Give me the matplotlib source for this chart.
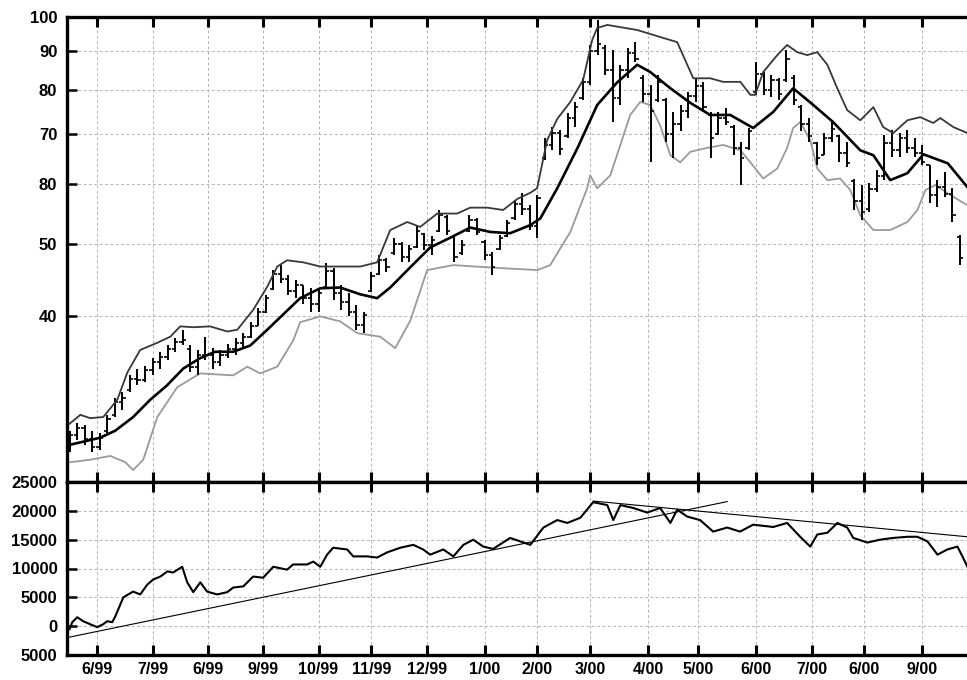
import numpy as np
import pandas as pd
import matplotlib
matplotlib.use('Agg')
import matplotlib.pyplot as plt
from matplotlib.ticker import NullLocator

# trading days covered by the chart (index 0 = first bar)
days = pd.bdate_range('1999-05-17', periods=357)

# price bars every third trading day: open / high / low / close
bar_day = list(range(0, 357, 3))
bar_high = [28.2, 28.9, 28.7, 28.2, 28.0, 29.6, 31.2, 31.7, 33.4, 34.1,
            34.4, 35.2, 35.9, 36.6, 37.4, 38.4, 36.6, 36.1, 37.6, 36.3,
            36.1, 36.8, 37.4, 38.0, 39.3, 41.0, 42.7, 46.1, 46.8, 45.4,
            44.7, 44.0, 43.6, 43.4, 47.1, 46.4, 44.0, 43.0, 41.4, 40.6,
            45.8, 48.3, 47.9, 50.8, 50.2, 49.7, 52.9, 51.6, 51.1, 55.4,
            54.5, 51.3, 50.5, 54.5, 54.0, 50.5, 48.7, 51.3, 53.7, 57.1,
            58.4, 56.2, 58.0, 69.0, 71.4, 70.7, 74.5, 77.0, 83.0, 91.8,
            99.1, 91.8, 90.4, 86.4, 91.0, 92.6, 83.7, 81.2, 83.7, 78.0,
            74.8, 76.4, 79.5, 83.0, 82.0, 74.8, 74.8, 75.7, 71.8, 68.2,
            71.1, 87.2, 84.5, 83.7, 83.0, 90.4, 83.7, 76.4, 73.4, 68.2,
            70.1, 72.9, 69.7, 68.2, 61.0, 59.8, 60.2, 62.6, 69.7, 70.7,
            70.1, 70.7, 69.0, 67.6, 63.6, 60.7, 62.2, 59.3, 51.3]
bar_low = [26.4, 27.4, 27.0, 26.4, 26.6, 28.0, 29.4, 30.0, 31.7, 32.4,
           32.7, 33.4, 34.1, 35.0, 35.9, 36.6, 33.7, 33.4, 35.0, 34.1,
           34.4, 35.2, 35.5, 36.3, 37.4, 38.9, 40.4, 43.4, 44.3, 42.7,
           42.3, 41.6, 40.5, 40.5, 43.6, 42.0, 40.8, 40.0, 38.4, 38.0,
           43.1, 45.4, 45.8, 48.3, 47.2, 47.2, 49.3, 49.0, 48.3, 51.8,
           51.3, 47.2, 48.3, 51.8, 51.3, 47.5, 45.4, 49.0, 51.0, 53.7,
           54.5, 52.1, 50.8, 64.5, 66.5, 65.5, 69.0, 71.4, 77.5, 81.2,
           89.0, 83.7, 72.5, 76.4, 83.0, 87.2, 77.0, 64.1, 77.0, 68.2,
           64.9, 70.5, 73.4, 77.0, 74.8, 64.9, 69.7, 71.8, 65.5, 59.8,
           66.5, 78.8, 78.8, 78.3, 77.5, 82.0, 76.4, 70.5, 68.2, 63.6,
           65.5, 68.2, 64.1, 63.2, 55.4, 53.7, 55.0, 58.5, 60.7, 65.1,
           65.1, 66.0, 65.1, 63.6, 56.6, 55.9, 57.6, 53.4, 46.8]
bar_open = [27.0, 27.8, 28.4, 27.5, 26.8, 28.2, 29.6, 30.8, 31.9, 33.0,
            32.9, 34.0, 34.8, 35.3, 36.2, 37.0, 36.2, 34.3, 35.6, 35.6,
            34.8, 35.6, 36.2, 36.9, 37.6, 38.9, 40.5, 43.5, 45.6, 44.8,
            43.3, 44.0, 42.3, 41.5, 43.8, 46.0, 43.0, 41.8, 40.6, 39.0,
            43.3, 45.6, 47.5, 48.5, 50.0, 48.0, 49.5, 51.4, 49.8, 52.0,
            54.3, 51.0, 48.5, 52.0, 53.8, 50.2, 48.2, 49.2, 51.2, 54.0,
            56.4, 55.5, 52.8, 65.0, 67.5, 70.2, 69.5, 73.5, 78.0, 82.0,
            90.0, 91.0, 85.0, 78.0, 85.0, 89.5, 83.0, 79.0, 77.5, 77.5,
            70.0, 72.0, 75.0, 78.5, 81.0, 74.0, 70.0, 73.5, 71.5, 67.0,
            67.0, 79.5, 84.0, 80.0, 82.5, 82.5, 83.0, 76.0, 72.0, 68.0,
            65.5, 69.0, 69.5, 66.0, 60.5, 57.0, 55.5, 59.0, 61.5, 68.0,
            66.5, 69.0, 67.0, 66.0, 63.5, 58.0, 59.5, 58.2, 51.0]
bar_close = [27.8, 28.4, 27.5, 26.8, 27.6, 29.2, 30.8, 31.2, 33.0, 32.9,
             34.0, 34.8, 35.3, 36.2, 37.0, 37.2, 34.3, 35.6, 35.6, 34.8,
             35.6, 36.2, 36.9, 37.6, 38.9, 40.5, 42.3, 45.6, 44.8, 43.3,
             44.0, 42.3, 41.5, 43.0, 46.0, 43.0, 41.8, 40.6, 39.0, 40.2,
             45.2, 47.5, 46.5, 50.0, 48.0, 49.2, 52.0, 49.8, 50.6, 54.6,
             51.9, 48.0, 49.8, 53.8, 51.8, 48.2, 46.5, 50.8, 53.2, 56.4,
             55.5, 52.8, 57.5, 67.5, 70.2, 66.8, 73.5, 76.0, 82.0, 90.0,
             92.0, 85.0, 78.0, 85.0, 89.5, 88.0, 79.0, 75.0, 82.0, 70.0,
             72.0, 75.0, 78.5, 81.0, 76.0, 69.0, 73.5, 72.5, 67.0, 65.0,
             70.5, 84.0, 80.0, 82.5, 79.0, 88.0, 77.5, 72.0, 69.5, 65.0,
             69.0, 71.0, 66.0, 64.0, 57.0, 55.0, 59.0, 61.5, 68.0, 66.5,
             69.0, 67.0, 66.0, 64.2, 58.0, 59.5, 58.2, 54.5, 47.8]

# upper band
upper_day = [0, 4.3, 8.2, 13.4, 19.0, 23.0, 28.1, 34.9, 40.1, 44.0, 49.2, 55.9,
             62.7, 66.7, 73.0, 78.6, 82.6, 86.5, 92.9, 99.7, 108.8, 115.6, 122.3,
             127.5, 134.3, 139.4, 146.2, 154.1, 159.3, 166.1, 172.4, 178.0, 183.2,
             185.9, 189.9, 193.9, 199.1, 204.2, 207.8, 209.8, 213.8, 225.7, 236.0,
             241.6, 245.6, 248.0, 254.7, 259.9, 266.7, 270.7, 272.6, 275.8, 281.4,
             285.3, 289.3, 293.3, 297.3, 301.3, 305.3, 309.2, 314.4, 319.6, 323.5,
             327.5, 333.1, 338.2, 343.4, 346.2, 351.4, 357]
upper_val = [28.8, 29.6, 29.3, 29.4, 31.0, 33.7, 36.1, 36.9, 37.6, 38.8, 38.7, 38.8,
             38.2, 38.4, 40.8, 43.8, 46.6, 47.5, 47.2, 46.6, 46.6, 46.6, 47.2,
             52.1, 53.4, 52.6, 54.8, 54.8, 55.8, 55.8, 55.4, 57.3, 58.4,
             59.2, 68.6, 73.2, 77.1, 82.5, 93.2, 96.7, 97.6, 96.1, 93.8,
             92.6, 86.4, 82.9, 82.9, 82.0, 82.0, 78.8, 78.8, 84.5, 89.0,
             91.8, 89.8, 89.0, 89.8, 86.4, 80.3, 75.2, 72.9, 75.9, 71.4,
             70.1, 72.9, 73.6, 72.3, 73.4, 71.4, 70.1]

# middle average
mid_day = [0, 6.2, 12.2, 18.2, 25.3, 32.1, 38.8, 45.2, 51.9, 57.9, 65.1, 71.9,
           78.6, 85.8, 91.7, 99.7, 107.6, 115.6, 122.3, 127.5, 135.5, 143.4,
           151.4, 159.3, 167.3, 175.2, 183.2, 187.2, 193.9, 201.9, 209.8, 217.8,
           225.7, 230.9, 238.9, 246.8, 254.7, 262.7, 271.8, 279.8, 287.7, 295.7,
           303.6, 314.4, 319.6, 326.3, 333.1, 339.5, 349.2, 357]
mid_val = [27.0, 27.3, 27.6, 28.2, 29.4, 31.0, 32.4, 34.1, 35.2, 35.9, 35.9, 36.6,
           38.4, 40.5, 42.3, 43.6, 43.7, 42.8, 42.3, 43.7, 46.5, 49.4,
           50.9, 52.5, 51.8, 51.6, 52.9, 54.0, 59.2, 66.9, 76.4, 81.9,
           86.4, 84.5, 80.4, 76.9, 74.1, 74.1, 71.2, 74.8, 80.4, 76.4,
           72.5, 66.5, 65.5, 60.7, 62.0, 65.7, 63.9, 59.4]

# lower band
lower_day = [0, 8.2, 16.2, 22.2, 25.3, 29.3, 34.9, 42.8, 51.9, 65.1, 70.7, 75.8,
             82.6, 89.0, 91.7, 99.7, 107.6, 114.4, 123.5, 129.5, 135.5, 142.2,
             152.6, 170.1, 186.0, 191.1, 199.1, 205.8, 207.0, 209.8, 215.0, 219.0,
             222.9, 226.9, 230.9, 234.8, 238.9, 242.8, 246.8, 253.5, 259.9, 266.7,
             270.7, 275.8, 281.4, 285.3, 287.7, 290.5, 294.5, 297.3, 301.3, 306.4,
             310.4, 314.4, 319.6, 326.3, 333.1, 337.1, 340.3, 344.3, 350.2, 357]
lower_val = [25.6, 25.8, 26.1, 25.6, 25.0, 25.8, 29.4, 32.2, 33.6, 33.4, 34.3, 33.6,
             34.3, 37.2, 39.3, 40.0, 39.4, 38.0, 37.6, 36.3, 39.5, 46.1,
             46.8, 46.4, 46.1, 46.8, 51.8, 59.2, 61.6, 59.2, 61.6, 67.6,
             74.1, 77.1, 76.4, 71.8, 65.5, 64.1, 66.2, 67.0, 67.6, 66.5,
             64.1, 61.0, 62.9, 67.0, 71.2, 72.5, 68.6, 62.9, 60.7, 61.0,
             58.9, 54.5, 52.1, 52.1, 53.4, 55.4, 58.9, 59.8, 58.0, 56.2]

# lower panel indicator
ind_day = [0, 1.1, 3.1, 5.4, 8.2, 11, 13.4, 15, 17, 18.2, 21.4, 25.3, 28.1, 30.9,
           33.3, 36.1, 38.9, 41.2, 44.8, 46.8, 49.2, 52, 54.7, 58.7, 62.7, 65.1,
           69.1, 73, 77, 81, 86.5, 88.9, 94.5, 96.9, 99.7, 102.4, 104.8, 110.4,
           112.8, 118.4, 122.3, 126.3, 131.5, 136.7, 140.6, 143.4, 148.6, 152.6,
           156.6, 160.5, 164.5, 168.4, 175.2, 183.2, 188.4, 193.9, 197.9, 203.1,
           208.2, 213.8, 216.2, 219, 224.1, 229.7, 234.8, 238.9, 241.6, 245.6,
           250.7, 255.9, 261.5, 266.6, 271.8, 279.8, 285.3, 290.5, 294.5, 297.3,
           301.3, 305.3, 309.2, 311.6, 317.2, 322.3, 327.5, 333.1, 337.1, 341.1,
           345.1, 349, 353, 355, 357]
ind_val = [-520, 690, 1550, 860, 340, -170, 340, 860, 690, 1700, 5000, 6000, 5500, 7200,
           8100, 8600, 9500, 9300, 10300, 7600, 5900, 7600, 6000, 5500, 5900, 6700,
           6900, 8600, 8400, 10300, 9800, 10700, 10700, 11200, 10300, 12400, 13600, 13300,
           12100, 12100, 11900, 12800, 13600, 14100, 13300, 12400, 13300, 12100,
           14100, 15000, 13800, 13400, 15300, 14100, 17100, 18400, 17900, 18800,
           21500, 21000, 18400, 21000, 20500, 19700, 20500, 17900, 20200, 19000,
           18400, 16400, 17100, 16400, 17600, 17200, 17900, 15500, 13800, 15900,
           16200, 17900, 17100, 15300, 14500, 15000, 15300, 15500, 15500, 14700,
           12400, 13300, 13800, 12100, 10300]

# trend lines on the lower panel (start/end)
trend1_day = [0, 261.5]
trend1_val = [-1900, 21600]
trend2_day = [208.2, 357]
trend2_val = [21700, 15500]

price_ticks = [40, 50, 60, 70, 80, 90, 100]
price_labels = ['40', '50', '80', '70', '80', '90', '100']
ind_ticks = [-5000, 0, 5000, 10000, 15000, 20000, 25000]
ind_labels = ['5000', '0', '5000', '10000', '15000', '20000', '25000']
month_labels = ['6/99', '7/99', '6/99', '9/99', '10/99', '11/99', '12/99', '1/00',
                '2/00', '3/00', '4/00', '5/00', '6/00', '7/00', '6/00', '9/00']

# first trading day of each month from June 1999
idx = pd.Series(np.arange(len(days)), index=days)
month_pos = idx.groupby([days.year, days.month]).first().values[1:]

plt.rcParams['font.family'] = ['Liberation Sans', 'DejaVu Sans']
plt.rcParams['font.weight'] = 'bold'

fig = plt.figure(figsize=(9.67, 6.8), dpi=100)
W, H = 967, 680
x0, x1 = 67, 975
ax = fig.add_axes([x0 / W, 1 - 482 / H, (x1 - x0) / W, (482 - 17) / H])
ax2 = fig.add_axes([x0 / W, 1 - 655 / H, (x1 - x0) / W, (655 - 482) / H])

grid_kw = dict(color='#b4b4b4', lw=0.7, dashes=(3, 2.5), zorder=0)

# price panel: OHLC bars and the three band lines
bd = np.array(bar_day, dtype=float)
ax.vlines(bd, bar_low, bar_high, color='black', lw=1.4, zorder=3)
ax.hlines(bar_open, bd - 1.3, bd, color='black', lw=1.2, zorder=3)
ax.hlines(bar_close, bd, bd + 1.3, color='black', lw=1.2, zorder=3)
ax.plot(upper_day, upper_val, color='#383838', lw=1.3, zorder=4)
ax.plot(mid_day, mid_val, color='black', lw=1.9, zorder=4)
ax.plot(lower_day, lower_val, color='#9a9a9a', lw=1.3, zorder=2)
ax.set_yscale('log')
ax.set_ylim(24.1, 100)
ax.set_xlim(-1, 360)
ax.set_yticks(price_ticks)
ax.set_yticklabels(price_labels)
ax.yaxis.set_minor_locator(NullLocator())
for v in price_ticks[:-1]:
    ax.axhline(v, **grid_kw)
for p in month_pos:
    ax.axvline(p, **grid_kw)
ax.set_xticks(month_pos)
ax.tick_params(axis='x', which='major', direction='in', length=7, width=2.2,
               top=True, bottom=True, labelbottom=False)
ax.tick_params(axis='y', which='major', direction='in', length=7, width=1.8,
               pad=7, labelsize=12)

# indicator panel
ax2.plot(ind_day, ind_val, color='black', lw=1.5, zorder=3)
ax2.plot(trend1_day, trend1_val, color='black', lw=0.8, zorder=2)
ax2.plot(trend2_day, trend2_val, color='black', lw=0.8, zorder=2)
ax2.set_xlim(-1, 360)
ax2.set_ylim(-5000, 25000)
ax2.set_yticks(ind_ticks)
ax2.set_yticklabels(ind_labels)
for v in ind_ticks[1:-1]:
    ax2.axhline(v, **grid_kw)
for p in month_pos:
    ax2.axvline(p, **grid_kw)
ax2.set_xticks(month_pos)
ax2.set_xticklabels(month_labels)
ax2.tick_params(axis='x', which='major', direction='in', length=7, width=2.2,
                top=True, bottom=True, pad=5, labelsize=11.5)
ax2.tick_params(axis='y', which='major', direction='in', length=7, width=1.8,
                pad=7, labelsize=12)

for a in (ax, ax2):
    for side in ('left', 'top', 'bottom'):
        a.spines[side].set_linewidth(2.4)
    a.spines['right'].set_visible(False)

fig.savefig('out.png', dpi=100)
